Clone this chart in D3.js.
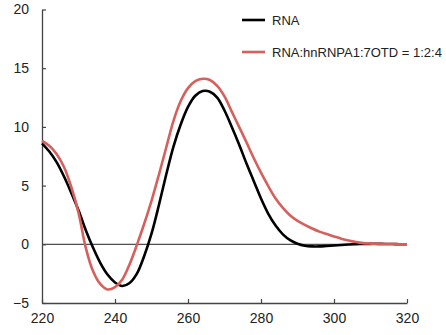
<!DOCTYPE html>
<html><head><meta charset="utf-8">
<script src="https://cdn.jsdelivr.net/npm/d3@7"></script>
<style>body{margin:0;background:#fff}svg{display:block}</style>
</head><body>
<script>
const wavelengths = [220,222,224,226,228,230,232,234,236,238,240,242,244,246,248,250,252,254,256,258,260,262,264,266,268,270,272,274,276,278,280,282,284,286,288,290,292,294,296,298,300,302,304,306,308,310,312,314,316,318,320];
const rnaValues = [8.6,7.9,7.0,5.8,4.4,2.9,1.2,-0.3,-1.6,-2.6,-3.25,-3.55,-3.3,-2.5,-1.0,0.9,3.3,5.9,8.3,10.2,11.7,12.65,13.05,13.0,12.5,11.4,10.0,8.5,6.9,5.4,3.9,2.6,1.6,0.85,0.35,0.05,-0.12,-0.18,-0.18,-0.14,-0.1,-0.06,-0.02,0.01,0.03,0.04,0.04,0.03,0.02,0.01,0.0];
const complexValues = [8.8,8.4,7.7,6.6,4.9,2.7,-0.3,-2.3,-3.4,-3.85,-3.65,-3.0,-1.7,-0.05,1.75,3.7,5.9,8.2,10.5,12.2,13.3,13.9,14.1,14.0,13.5,12.6,11.3,10.0,8.7,7.35,6.1,4.95,3.9,3.1,2.45,2.0,1.65,1.35,1.08,0.87,0.67,0.48,0.32,0.19,0.1,0.06,0.04,0.03,0.02,0.01,0.0];
const seriesNames = ["RNA","RNA:hnRNPA1:7OTD = 1:2:4"];
const seriesColors = ["#000000","#d6605c"];
const xTicks = [220,240,260,280,300,320];
const yTicks = [-5,0,5,10,15,20];

const W=446,H=335;
const svg=d3.select("body").append("svg").attr("width",W).attr("height",H);
const x=d3.scaleLinear().domain([220,320]).range([42,407]);
const y=d3.scaleLinear().domain([-5,20]).range([303,9.5]);
const font="Liberation Sans, Arial, sans-serif";

// zero line
svg.append("line").attr("x1",x(220)).attr("x2",x(320)).attr("y1",y(0)).attr("y2",y(0))
  .attr("stroke","#222").attr("stroke-width",1);

// axes
const xa=svg.append("g").attr("transform",`translate(0,${y(-5)})`)
  .call(d3.axisBottom(x).tickValues(xTicks).tickSizeInner(-4).tickSizeOuter(0).tickPadding(10));
const ya=svg.append("g").attr("transform",`translate(${x(220)},0)`)
  .call(d3.axisLeft(y).tickValues(yTicks).tickSizeInner(-4).tickSizeOuter(0).tickPadding(13));
[xa,ya].forEach(a=>{
  a.select(".domain").attr("stroke","#444").attr("stroke-width",1.3);
  a.selectAll(".tick line").attr("stroke","#444").attr("stroke-width",1.2);
  a.selectAll("text").attr("font-family",font).attr("font-size",14).attr("fill","#222");
});

const line=d3.line().x((d,i)=>x(wavelengths[i])).y(d=>y(d)).curve(d3.curveCatmullRom.alpha(0.5));
[rnaValues,complexValues].forEach((vals,k)=>{
  svg.append("path").attr("d",line(vals)).attr("fill","none")
    .attr("stroke",seriesColors[k]).attr("stroke-width",2.6).attr("stroke-linejoin","round");
});

// legend
const ly=[20,52];
seriesNames.forEach((n,k)=>{
  svg.append("line").attr("x1",242).attr("x2",265).attr("y1",ly[k]).attr("y2",ly[k])
    .attr("stroke",seriesColors[k]).attr("stroke-width",2.6);
  svg.append("text").attr("x",272).attr("y",ly[k]).attr("dy","0.35em")
    .attr("font-family",font).attr("font-size",13).attr("fill","#222").text(n);
});
</script>
</body></html>
